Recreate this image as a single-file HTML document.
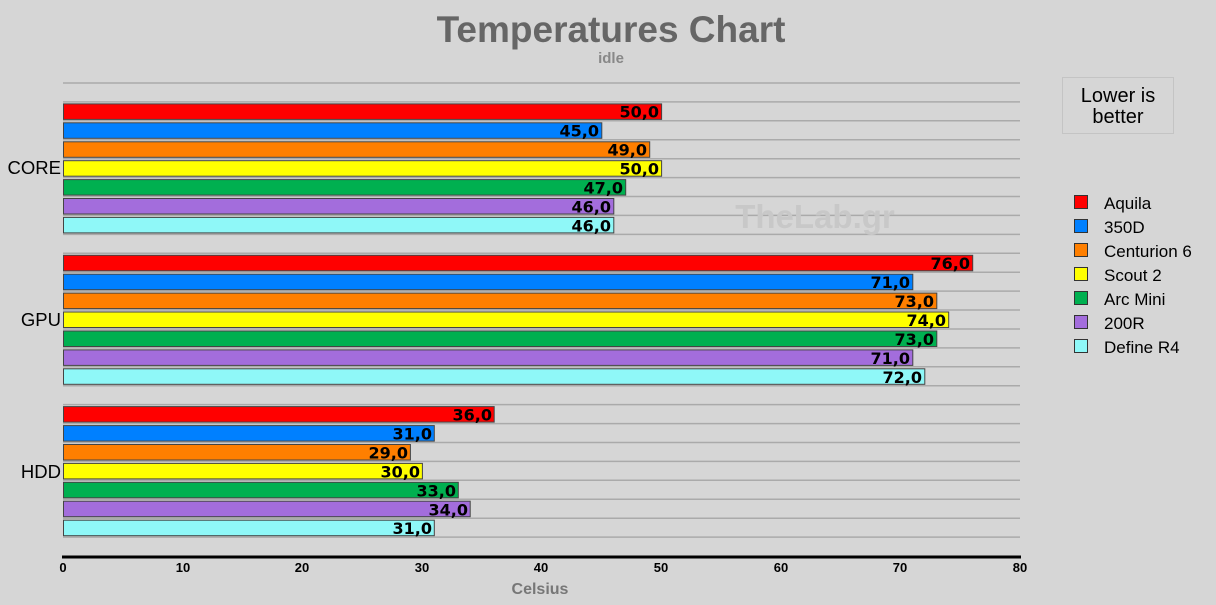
<!DOCTYPE html>
<html><head><meta charset="utf-8"><style>body{margin:0;background:#d6d6d6}svg{display:block}</style></head>
<body>
<svg width="1216" height="605" viewBox="0 0 1216 605" xmlns="http://www.w3.org/2000/svg" font-family="Liberation Sans, sans-serif">
<rect width="1216" height="605" fill="#d6d6d6"/>
<text x="611" y="42" text-anchor="middle" font-size="37" font-weight="bold" fill="#666">Temperatures Chart</text>
<text x="611" y="63" text-anchor="middle" font-size="15" font-weight="bold" fill="#888">idle</text>
<g stroke="#aaa" stroke-width="1.5">
<line x1="63" x2="1020" y1="83" y2="83"/><line x1="63" x2="1020" y1="101.9" y2="101.9"/><line x1="63" x2="1020" y1="120.8" y2="120.8"/><line x1="63" x2="1020" y1="139.8" y2="139.8"/><line x1="63" x2="1020" y1="158.7" y2="158.7"/><line x1="63" x2="1020" y1="177.6" y2="177.6"/><line x1="63" x2="1020" y1="196.5" y2="196.5"/><line x1="63" x2="1020" y1="215.4" y2="215.4"/><line x1="63" x2="1020" y1="234.4" y2="234.4"/><line x1="63" x2="1020" y1="253.3" y2="253.3"/><line x1="63" x2="1020" y1="272.2" y2="272.2"/><line x1="63" x2="1020" y1="291.1" y2="291.1"/><line x1="63" x2="1020" y1="310" y2="310"/><line x1="63" x2="1020" y1="329" y2="329"/><line x1="63" x2="1020" y1="347.9" y2="347.9"/><line x1="63" x2="1020" y1="366.8" y2="366.8"/><line x1="63" x2="1020" y1="385.7" y2="385.7"/><line x1="63" x2="1020" y1="404.6" y2="404.6"/><line x1="63" x2="1020" y1="423.6" y2="423.6"/><line x1="63" x2="1020" y1="442.5" y2="442.5"/><line x1="63" x2="1020" y1="461.4" y2="461.4"/><line x1="63" x2="1020" y1="480.3" y2="480.3"/><line x1="63" x2="1020" y1="499.2" y2="499.2"/><line x1="63" x2="1020" y1="518.2" y2="518.2"/><line x1="63" x2="1020" y1="537.1" y2="537.1"/>
</g>
<text x="815" y="228" text-anchor="middle" font-size="33" font-weight="bold" fill="#c8c8c8">TheLab.gr</text>
<g stroke="#444" stroke-width="1">
<rect x="63.5" y="103.9" width="598.1" height="15.5" fill="#ff0000"/>
<rect x="63.5" y="122.8" width="538.3" height="15.5" fill="#0080ff"/>
<rect x="63.5" y="141.8" width="586.2" height="15.5" fill="#ff7f00"/>
<rect x="63.5" y="160.7" width="598.1" height="15.5" fill="#ffff00"/>
<rect x="63.5" y="179.6" width="562.2" height="15.5" fill="#00b050"/>
<rect x="63.5" y="198.5" width="550.3" height="15.5" fill="#a36ddc"/>
<rect x="63.5" y="217.4" width="550.3" height="15.5" fill="#8ff8f8"/>
<rect x="63.5" y="255.3" width="909.2" height="15.5" fill="#ff0000"/>
<rect x="63.5" y="274.2" width="849.3" height="15.5" fill="#0080ff"/>
<rect x="63.5" y="293.1" width="873.3" height="15.5" fill="#ff7f00"/>
<rect x="63.5" y="312" width="885.2" height="15.5" fill="#ffff00"/>
<rect x="63.5" y="331" width="873.3" height="15.5" fill="#00b050"/>
<rect x="63.5" y="349.9" width="849.3" height="15.5" fill="#a36ddc"/>
<rect x="63.5" y="368.8" width="861.3" height="15.5" fill="#8ff8f8"/>
<rect x="63.5" y="406.6" width="430.7" height="15.5" fill="#ff0000"/>
<rect x="63.5" y="425.6" width="370.8" height="15.5" fill="#0080ff"/>
<rect x="63.5" y="444.5" width="346.9" height="15.5" fill="#ff7f00"/>
<rect x="63.5" y="463.4" width="358.9" height="15.5" fill="#ffff00"/>
<rect x="63.5" y="482.3" width="394.8" height="15.5" fill="#00b050"/>
<rect x="63.5" y="501.2" width="406.7" height="15.5" fill="#a36ddc"/>
<rect x="63.5" y="520.2" width="370.8" height="15.5" fill="#8ff8f8"/>
</g>
<g font-size="16" font-weight="bold" fill="#000" text-anchor="end" font-family="DejaVu Sans, sans-serif">
<text x="659" y="117.5">50,0</text><text x="599" y="136.5">45,0</text><text x="647" y="155.5">49,0</text><text x="659" y="174.5">50,0</text><text x="623" y="193.5">47,0</text><text x="611" y="212.5">46,0</text><text x="611" y="231.5">46,0</text>
<text x="970" y="269">76,0</text><text x="910" y="288">71,0</text><text x="934" y="307">73,0</text><text x="946" y="326">74,0</text><text x="934" y="345">73,0</text><text x="910" y="364">71,0</text><text x="922" y="383">72,0</text>
<text x="492" y="420.5">36,0</text><text x="432" y="439.5">31,0</text><text x="408" y="458.5">29,0</text><text x="420" y="477.5">30,0</text><text x="456" y="496.5">33,0</text><text x="468" y="515.5">34,0</text><text x="432" y="534">31,0</text>
</g>
<g font-size="18.5" fill="#000" text-anchor="end">
<text x="61" y="174">CORE</text><text x="61" y="326">GPU</text><text x="61" y="478">HDD</text>
</g>
<rect x="62" y="555.5" width="959" height="3" fill="#000"/>
<g font-size="13" font-weight="bold" fill="#000" text-anchor="middle">
<text x="63" y="572">0</text><text x="183" y="572">10</text><text x="302" y="572">20</text><text x="422" y="572">30</text><text x="541" y="572">40</text><text x="661" y="572">50</text><text x="781" y="572">60</text><text x="900" y="572">70</text><text x="1020" y="572">80</text>
</g>
<text x="540" y="594" text-anchor="middle" font-size="16" font-weight="bold" fill="#777">Celsius</text>
<rect x="1062.5" y="77.5" width="111" height="56" fill="none" stroke="#c4c4c4"/>
<text x="1118" y="102" text-anchor="middle" font-size="20" fill="#000">Lower is</text>
<text x="1118" y="123" text-anchor="middle" font-size="20" fill="#000">better</text>
<g stroke="#333" stroke-width="1">
<rect x="1074.5" y="195.5" width="13" height="13" fill="#ff0000"/>
<rect x="1074.5" y="219.5" width="13" height="13" fill="#0080ff"/>
<rect x="1074.5" y="243.5" width="13" height="13" fill="#ff7f00"/>
<rect x="1074.5" y="267.5" width="13" height="13" fill="#ffff00"/>
<rect x="1074.5" y="291.5" width="13" height="13" fill="#00b050"/>
<rect x="1074.5" y="315.5" width="13" height="13" fill="#a36ddc"/>
<rect x="1074.5" y="339.5" width="13" height="13" fill="#8ff8f8"/>
</g>
<g font-size="17" fill="#000">
<text x="1104" y="209">Aquila</text><text x="1104" y="233">350D</text><text x="1104" y="257">Centurion 6</text><text x="1104" y="281">Scout 2</text><text x="1104" y="305">Arc Mini</text><text x="1104" y="329">200R</text><text x="1104" y="353">Define R4</text>
</g>
</svg>
</body></html>
